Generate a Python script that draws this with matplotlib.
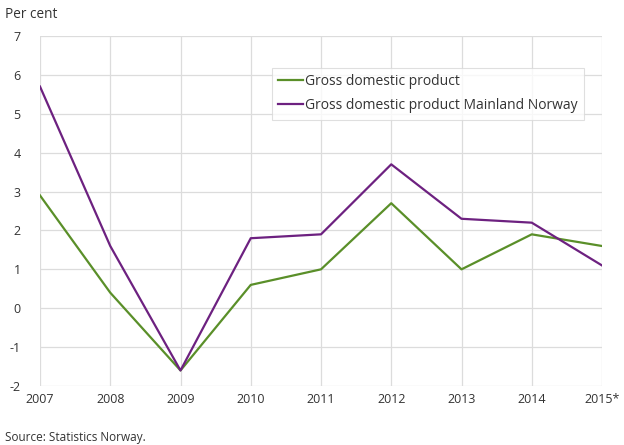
import matplotlib.pyplot as plt

# data
years = ["2007", "2008", "2009", "2010", "2011", "2012", "2013", "2014", "2015*"]
gdp = [2.9, 0.4, -1.6, 0.6, 1.0, 2.7, 1.0, 1.9, 1.6]
gdp_mainland = [5.7, 1.6, -1.6, 1.8, 1.9, 3.7, 2.3, 2.2, 1.1]
y_ticks = [-2, -1, 0, 1, 2, 3, 4, 5, 6, 7]

plt.rcParams['font.family'] = ['Open Sans', 'DejaVu Sans']
plt.rcParams['axes.unicode_minus'] = False

fig = plt.figure(figsize=(6.24, 4.45), dpi=100)
ax = fig.add_axes([40 / 624, 1 - 386 / 445, 562 / 624, 350 / 445])

x = list(range(len(years)))
ax.plot(x, gdp, color='#5a8f29', linewidth=1.6, label='Gross domestic product')
ax.plot(x, gdp_mainland, color='#6d2180', linewidth=1.6,
        label='Gross domestic product Mainland Norway')

ax.set_xlim(0, len(years) - 1)
ax.set_ylim(-2, 7)
ax.set_xticks(x)
ax.set_xticklabels(years)
ax.set_yticks(y_ticks)

ax.grid(True, color='#dcdcdc', linewidth=0.9)
ax.set_axisbelow(True)
for s in ax.spines.values():
    s.set_visible(False)
ax.tick_params(length=0, labelsize=9, colors='#333333')
ax.tick_params(axis='y', pad=14)
ax.tick_params(axis='x', pad=5)

leg = ax.legend(loc='upper left', bbox_to_anchor=(232 / 562, 1 - 32 / 350),
                fontsize=10, frameon=True, fancybox=False, handlelength=1.8,
                handletextpad=0.1, borderpad=0.45, labelspacing=0.65,
                borderaxespad=0)
leg.get_frame().set_edgecolor('#d8d8d8')
leg.get_frame().set_linewidth(0.8)
for t in leg.get_texts():
    t.set_color('#333333')

fig.text(5 / 624, 1 - 15 / 445, "Per cent", fontsize=9.8, color='#333333', va='center')
fig.text(5 / 624, 1 - 437 / 445, "Source: Statistics Norway.", fontsize=8.5,
         color='#333333', va='center')

plt.savefig("out.png", dpi=100)
plt.close()
